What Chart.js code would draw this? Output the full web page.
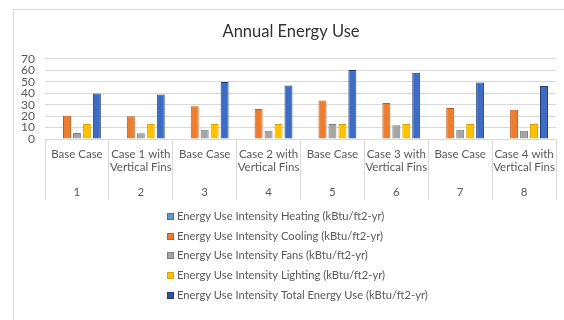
<!DOCTYPE html>
<html>
<head>
<meta charset="utf-8">
<script src="https://cdn.jsdelivr.net/npm/chart.js@4"></script>
<style>
  html, body { margin: 0; padding: 0; background: #fff; }
  #wrap { position: relative; width: 564px; height: 320px; overflow: hidden; }
  #frame { position: absolute; left: 13px; top: 9px; width: 600px; height: 400px;
           border-left: 1px solid #d9d9d9; border-top: 1px solid #d9d9d9; }
  canvas { position: absolute; left: 0; top: 0; }
</style>
</head>
<body>
<div id="wrap">
  <div id="frame"></div>
  <canvas id="energyChart" width="564" height="320"></canvas>
</div>
<script>
const caseLabels = [
  ["Base Case"], ["Case 1 with", "Vertical Fins"],
  ["Base Case"], ["Case 2 with", "Vertical Fins"],
  ["Base Case"], ["Case 3 with", "Vertical Fins"],
  ["Base Case"], ["Case 4 with", "Vertical Fins"]
];
const runNumbers = ["1", "2", "3", "4", "5", "6", "7", "8"];

const heating = [0, 0, 0, 0, 0, 0, 0, 0];
const cooling = [20.4, 19.9, 28.5, 26.2, 33.7, 31.4, 27.0, 25.6];
const fans = [5.2, 5.0, 8.0, 7.2, 13.0, 12.1, 8.0, 7.2];
const lighting = [13, 13, 13, 13, 13, 13, 13, 13];
const totalUse = [39.8, 38.9, 49.8, 46.7, 60.2, 57.9, 49.3, 46.3];

const seriesNames = [
  "Energy Use Intensity Heating (kBtu/ft2-yr)",
  "Energy Use Intensity Cooling (kBtu/ft2-yr)",
  "Energy Use Intensity Fans (kBtu/ft2-yr)",
  "Energy Use Intensity Lighting (kBtu/ft2-yr)",
  "Energy Use Intensity Total Energy Use (kBtu/ft2-yr)"
];

const fills = ["#5b9bd5", "#ed7d31", "#a5a5a5", "#ffc000", "#3d6cc4"];
const edges = ["#41719c", "#c55a11", "#7f7f7f", "#d9a300", "#203d7a"];
const legendFills = ["#5b9bd5", "#ed7d31", "#a5a5a5", "#ffc000", "#2f5597"];

const textColor = "#595959";
const gridColor = "#d9d9d9";

// legend drawn as a plain vertical list, like the Excel original
const listLegend = {
  id: "listLegend",
  afterDraw(chart) {
    const ctx = chart.ctx;
    const top = chart.scales.x2.bottom + 16;
    ctx.save();
    ctx.font = "11.2px Lato";
    ctx.textBaseline = "middle";
    chart.data.datasets.forEach((ds, i) => {
      const y = Math.round(top + i * 19.7);
      ctx.fillStyle = legendFills[i];
      ctx.fillRect(167, y - 3, 7, 7);
      ctx.strokeStyle = edges[i];
      ctx.lineWidth = 1;
      ctx.strokeRect(167.5, y - 2.5, 6, 6);
      ctx.fillStyle = textColor;
      ctx.fillText(ds.label, 177, y + 0.5);
    });
    ctx.restore();
  }
};

const seriesData = [heating, cooling, fans, lighting, totalUse];

const ctx = document.getElementById("energyChart").getContext("2d");

window.energyChart = new Chart(ctx, {
  type: "bar",
  data: {
    labels: caseLabels,
    datasets: seriesData.map((values, i) => ({
      label: seriesNames[i],
      data: values,
      backgroundColor: fills[i],
      borderColor: edges[i],
      borderWidth: i === 0 ? 0 : 1,
      borderSkipped: "start",
      categoryPercentage: 0.78,
      barPercentage: 0.8,
      xAxisID: "x",
      yAxisID: "y",
    })),
  },
  options: {
    responsive: false,
    animation: false,
    layout: {
      padding: { left: 18, right: 0, top: 0, bottom: 120 },
    },
    scales: {
      y: {
        min: 0,
        max: 70,
        ticks: {
          stepSize: 10,
          autoSkip: false,
          padding: 10,
          color: textColor,
          font: { family: "Lato", size: 12 },
        },
        grid: { color: gridColor, drawTicks: false },
        border: { display: false },
        afterFit: (axis) => { axis.width = 27; },
      },
      // empty spacer on the right so the title centres like the original
      yRight: {
        position: "right",
        min: 0,
        max: 70,
        ticks: { display: false },
        grid: { display: false, drawTicks: false },
        border: { display: false },
        afterFit: (axis) => { axis.width = 8; },
      },
      x: {
        type: "category",
        position: "bottom",
        grid: {
          offset: true,
          drawOnChartArea: false,
          color: gridColor,
          tickLength: 36,
        },
        border: { display: true, color: gridColor },
        ticks: {
          padding: -28,
          maxRotation: 0,
          autoSkip: false,
          color: textColor,
          font: { family: "Lato", size: 11.5, lineHeight: 1.2 },
        },
        afterFit: (axis) => { axis.height = 36; },
      },
      x2: {
        type: "category",
        position: "bottom",
        labels: runNumbers,
        grid: {
          offset: true,
          drawOnChartArea: false,
          color: gridColor,
          tickLength: 25,
        },
        border: { display: false },
        ticks: {
          padding: -15,
          maxRotation: 0,
          autoSkip: false,
          color: textColor,
          font: { family: "Lato", size: 11.5 },
        },
        afterFit: (axis) => { axis.height = 25; },
      },
    },
    plugins: {
      legend: { display: false },
      tooltip: { enabled: false },
      title: {
        display: true,
        text: "Annual Energy Use",
        color: "#333333",
        padding: { top: 22, bottom: 17 },
        font: { family: "Lato", size: 16.5, weight: "normal" },
      },
    },
  },
  plugins: [listLegend],
});
</script>
</body>
</html>
